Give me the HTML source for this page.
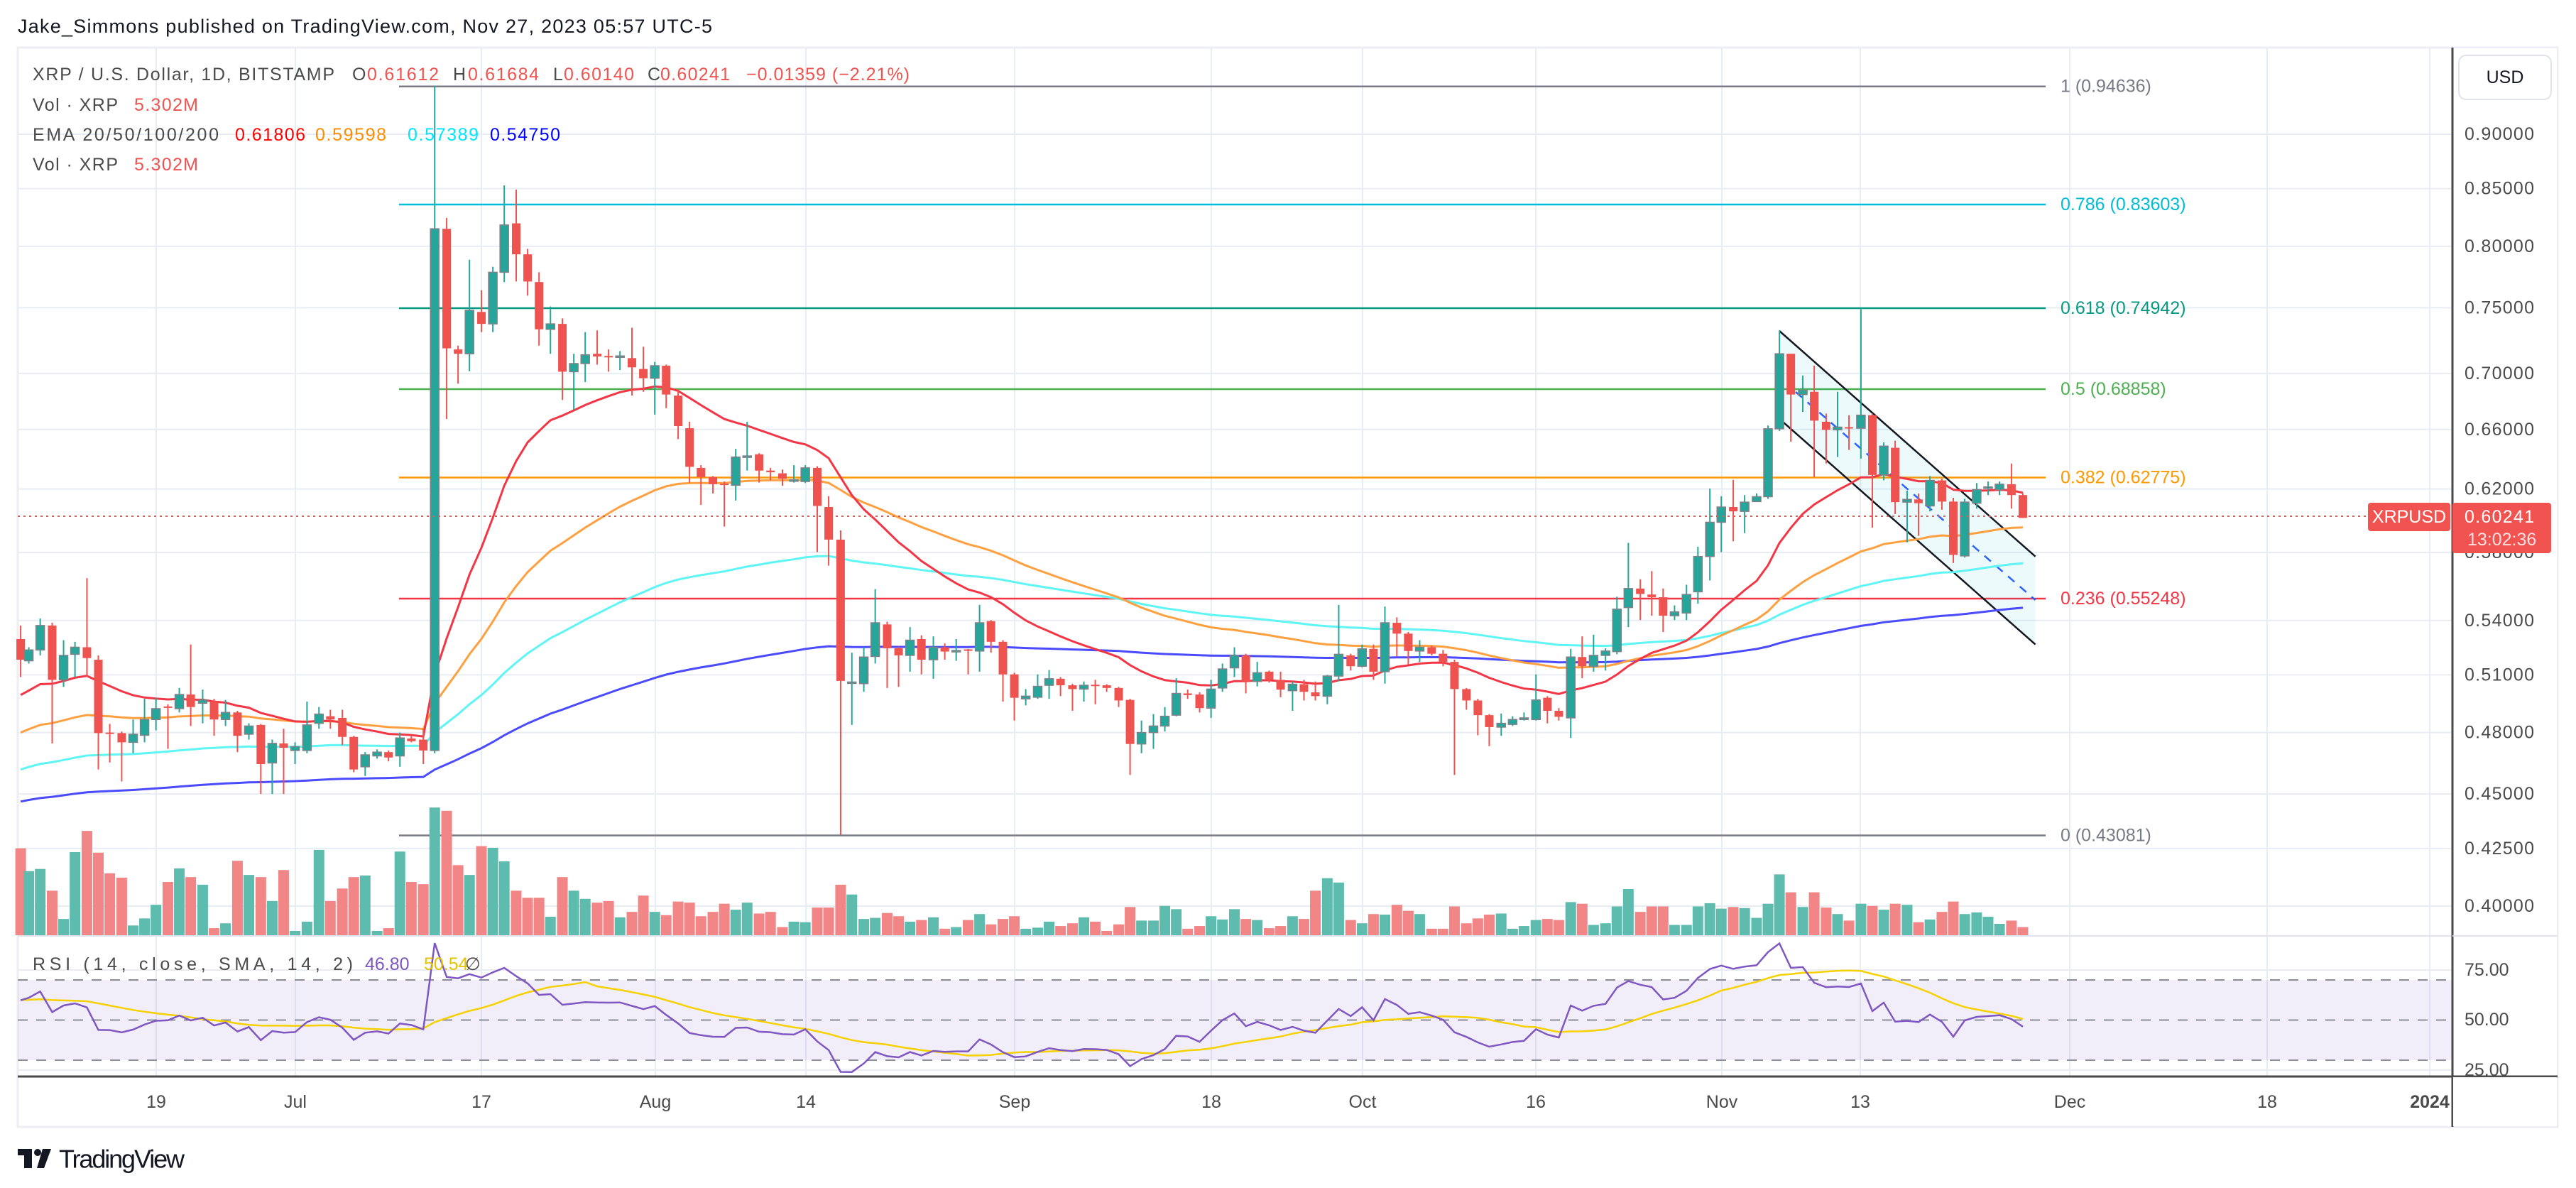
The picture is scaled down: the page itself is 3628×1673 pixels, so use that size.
<!DOCTYPE html>
<html><head><meta charset="utf-8">
<style>
html,body{margin:0;padding:0;background:#fff;}
svg{display:block;font-family:"Liberation Sans",sans-serif;}
</style></head>
<body>
<svg id="c" width="3628" height="1673" viewBox="0 0 3628 1673" xmlns="http://www.w3.org/2000/svg"></svg>
<script>
const Z7=[[38,980,1018,955,1050,1365],[53,1020,1000,995,1025,1407],[74,1000,955,942,1010,1403],[96,955,1055,950,1172,1443],[117,1055,1010,982,1068,1495],[138,1008,995,985,1050,1372],[160,995,1015,868,1050,1333],[181,1018,1153,1010,1220,1373],[202,1152,1154,1136,1207,1411],[224,1153,1170,1150,1242,1419],[245,1170,1155,1128,1190,1507],[266,1157,1128,1090,1170,1494],[287,1128,1108,1088,1148,1469],[309,1104,1106,1100,1182,1427],[330,1108,1082,1070,1115,1402],[351,1082,1105,990,1140,1418],[373,1098,1092,1073,1135,1432],[394,1095,1128,1090,1158,1512],[415,1128,1115,1092,1140,1503],[437,1115,1158,1112,1188,1388],[458,1155,1140,1135,1165,1414],[480,1138,1210,1136,1265,1418],[501,1208,1172,1165,1265,1462],[522,1172,1180,1145,1265,1405],[543,1185,1178,1170,1210,1517],[565,1185,1138,1095,1190,1500],[587,1135,1118,1105,1145,1368],[608,1122,1128,1110,1145,1462],[630,1125,1160,1110,1175,1439],[651,1160,1220,1158,1225,1418],[672,1215,1193,1188,1232,1415],[694,1195,1188,1183,1200,1517],[715,1188,1198,1185,1205,1512],[736,1195,1162,1152,1215,1371],[757,1163,1168,1158,1170,1427],[779,1165,1185,1145,1210,1431],[800,1185,225,-37,1190,1290],[822,225,445,205,575,1296],[843,447,455,440,510,1396],[864,455,375,282,487,1414],[886,378,400,338,415,1361],[907,400,305,295,415,1364],[928,305,218,145,323,1389],[950,215,272,153,322,1443],[971,272,322,262,348,1456],[992,323,410,305,440,1456],[1013,410,400,368,455,1491],[1035,400,488,390,540,1418],[1056,488,473,455,558,1443],[1077,473,457,415,507,1458],[1099,455,460,412,475,1465],[1120,459,461,447,488,1462],[1141,461,459,450,485,1492],[1163,463,480,407,532,1482],[1184,483,500,442,525,1452],[1205,500,477,470,567,1482],[1226,477,530,475,555,1488],[1248,532,588,520,612,1463],[1269,592,663,580,692,1465],[1290,665,682,660,733,1490],[1312,682,695,680,712,1482],[1333,694,696,690,773,1467],[1354,697,645,630,725,1478],[1375,645,643,580,670,1465],[1397,640,670,638,692,1485],[1418,670,673,665,688,1482],[1440,675,685,668,698,1510],[1461,689,687,660,692,1500],[1482,690,665,660,693,1501],[1504,665,735,662,820,1474],[1525,737,797,717,845,1474],[1547,797,1057,780,1340,1432]];
const Z8=[[65,1061,1059,1005,1138,1450],[87,1062,1013,995,1077,1495],[108,1012,950,888,1025,1493],[130,953,997,948,1070,1484],[151,997,1010,994,1068,1490],[172,1010,982,958,1040,1500],[193,980,1018,973,1045,1497],[215,1018,995,975,1053,1492],[236,995,1003,988,1018,1513],[257,1003,1001,980,1020,1510],[279,999,1001,998,1045,1497],[300,1002,950,917,1040,1486],[321,947,985,945,1005,1505],[343,985,1045,982,1095,1495],[364,1045,1088,1042,1130,1490],[385,1090,1085,1072,1102,1513],[407,1087,1067,1045,1090,1511],[428,1065,1053,1037,1090,1500],[449,1053,1065,1050,1085,1508],[471,1065,1072,1062,1112,1503],[492,1072,1065,1058,1095,1492],[513,1064,1066,1055,1100,1500],[534,1065,1070,1063,1077,1517],[556,1070,1093,1068,1105,1505],[577,1092,1173,1090,1230,1473],[598,1173,1152,1130,1190,1498],[620,1152,1140,1118,1182,1498],[641,1140,1122,1105,1150,1471],[662,1120,1080,1052,1122,1477],[683,1080,1083,1073,1090,1513],[705,1082,1107,1078,1115,1508],[726,1107,1072,1055,1125,1490],[747,1070,1035,1025,1077,1496],[769,1033,1010,995,1050,1477],[790,1010,1058,1007,1080,1495],[811,1058,1042,1022,1067,1497],[833,1040,1055,1038,1060,1512],[854,1055,1073,1040,1087,1508],[876,1075,1063,1058,1112,1490],[897,1063,1077,1055,1093,1495],[918,1078,1085,1058,1093,1443],[940,1085,1048,1046,1100,1420],[961,1048,1008,917,1058,1428],[983,1010,1030,1007,1038,1497],[1004,1030,998,990,1032,1503],[1025,998,1040,990,1055,1486],[1046,1040,950,920,1062,1487],[1068,950,970,940,1012,1469],[1089,970,1002,967,1027,1480],[1110,1002,995,982,1022,1486],[1132,995,1007,992,1010,1513],[1153,1007,1022,1000,1030,1513],[1174,1022,1072,1018,1230,1472],[1196,1072,1093,1070,1110,1503],[1217,1093,1120,1090,1157,1494],[1238,1120,1142,1118,1177,1487],[1260,1142,1135,1117,1158,1485],[1281,1137,1128,1122,1140,1513],[1302,1128,1125,1115,1130,1508],[1324,1128,1092,1045,1130,1497],[1345,1088,1112,1085,1135,1495],[1366,1112,1123,1107,1130,1497],[1388,1125,1013,998,1162,1464],[1409,1013,1030,975,1052,1467],[1430,1030,1010,972,1040,1506],[1452,1010,1002,997,1038,1503],[1473,1003,925,902,1008,1472],[1494,922,887,803,958,1440],[1516,887,897,870,945,1482],[1537,898,903,855,937,1472],[1558,903,937,887,967,1472]];
const Z9=[[207,937,930,918,945,1506],[229,932,898,880,945,1506],[250,893,828,810,915,1472],[272,828,765,703,872,1466],[293,765,737,717,820,1476],[315,737,745,687,800,1473],[336,745,728,715,785,1475],[358,727,718,712,722,1493],[379,718,593,587,722,1467],[400,593,455,412,597,1413],[421,455,530,455,617,1446],[443,530,522,495,562,1473],[464,525,578,477,682,1446],[486,580,595,565,657,1474],[507,595,590,525,645,1486],[528,590,592,568,632,1498],[550,592,568,373,648,1467],[571,568,678,565,775,1471],[592,678,625,618,688,1478],[613,628,728,615,750,1467],[635,728,723,707,802,1469],[656,723,730,712,790,1501],[677,735,688,680,745,1496],[699,688,727,685,742,1482],[720,727,825,720,840,1463],[741,827,728,722,830,1486],[763,730,705,693,740,1483],[784,702,700,690,715,1491],[805,705,695,690,715,1504],[827,695,715,657,740,1498],[848,715,757,712,757,1510]];
const K=1.3067;
let C=[];
function add(arr,off){for(const a of arr){C.push({x:off+a[0]/K,o:150+a[1]/K,c:150+a[2]/K,h:150+a[3]/K,l:150+a[4]/K,v:150+a[5]/K});}}
add(Z7,0);add(Z8,1150);add(Z9,2200);
const P=y=>0.9*Math.exp(-(y-189)/1340.5);
const Y=p=>189+1340.5*Math.log(0.9/p);
let s='';
const L=(x1,y1,x2,y2,st,w,extra)=>`<line x1="${x1}" y1="${y1}" x2="${x2}" y2="${y2}" stroke="${st}" stroke-width="${w}" ${extra||''}/>`;
const T=(x,y,t,fill,fs,extra)=>`<text x="${x}" y="${y}" fill="${fill}" font-size="${fs}" dominant-baseline="central" ${extra||''}>${t}</text>`;
s+=`<rect x="0" y="0" width="3628" height="1673" fill="#fff"/>`;
s+=`<rect x="25" y="67" width="3577" height="1520" fill="#fff" stroke="#eceef4" stroke-width="3"/>`;
const prices=[0.9,0.85,0.8,0.75,0.7,0.66,0.62,0.58,0.54,0.51,0.48,0.45,0.425,0.40];
for(const p of prices){s+=L(25,Y(p),3454,Y(p),'#e8edf3',2);}
s+=L(25,1366,3454,1366,'#e8edf3',2);s+=L(25,1507,3454,1507,'#e8edf3',2);
const tl=[[220,'19'],[416,'Jul'],[678,'17'],[923,'Aug'],[1135,'14'],[1429,'Sep'],[1706,'18'],[1919,'Oct'],[2163,'16'],[2425,'Nov'],[2620,'13'],[2915,'Dec'],[3193,'18'],[3422,'2024']];
for(const t of tl){s+=L(t[0],67,t[0],1516,'#e8edf3',2);}
s+=`<rect x="25" y="1380" width="3429" height="113" fill="#7e57c2" fill-opacity="0.1"/>`;
for(const y of [1380,1436.5,1493]) s+=L(25,y,3454,y,'#8a8d98',2,'stroke-dasharray="14 12"');
s+=L(25,1318,3602,1318,'#e0e3eb',2);
const fib=[[121.7,'#787b86','1 (0.94636)'],[288,'#00bcd4','0.786 (0.83603)'],[434,'#089981','0.618 (0.74942)'],[548,'#4caf50','0.5 (0.68858)'],[672.5,'#ff9800','0.382 (0.62775)'],[843,'#f23645','0.236 (0.55248)'],[1176.5,'#787b86','0 (0.43081)']];
for(const f of fib){s+=L(562,f[0],2881,f[0],f[1],2.5);s+=T(2902,f[0],f[2],f[1],25);}
s+=`<polygon points="2506,466 2866.6,783.7 2866.6,907.6 2512,595" fill="#00bcd4" fill-opacity="0.07"/>`;
s+=L(2506,466,2866.6,783.7,'#131722',2.5)+L(2512,595,2866.6,907.6,'#131722',2.5);
s+=L(2529,552,2866.6,845,'#2962ff',2.5,'stroke-dasharray="12 10"');
for(const k of C){const g=k.c<=k.o;s+=`<rect x="${k.x-7.5}" y="${k.v}" width="15" height="${1317-k.v}" fill="${g?'#5dbcae':'#f28585'}"/>`;}
function ema(n,y0){let e=P(y0),a=2/(n+1),pts=[];for(const k of C){e=e+a*(P(k.c)-e);pts.push(k.x.toFixed(1)+','+Y(e).toFixed(1));}return pts.join(' ');}
s+=`<polyline points="${ema(200,1131)}" fill="none" stroke="#4a4aff" stroke-width="3"/>`;
s+=`<polyline points="${ema(100,1087)}" fill="none" stroke="#5ff5f5" stroke-width="3"/>`;
s+=`<polyline points="${ema(50,1036)}" fill="none" stroke="#ffa040" stroke-width="3"/>`;
s+=`<polyline points="${ema(20,984)}" fill="none" stroke="#f23645" stroke-width="3"/>`;
for(const k of C){const g=k.c<k.o;const col=g?'#26a69a':'#ef5350';
 const top=Math.min(k.o,k.c),bot=Math.max(k.o,k.c);
 s+=L(k.x,k.h,k.x,k.l,col,2);
 s+=`<rect x="${k.x-6}" y="${top}" width="12" height="${Math.max(bot-top,2)}" fill="${col}" ${g?'stroke="#7d8288" stroke-width="1.5"':''}/>`;}
s+=L(25,727,3335,727,'#ef5350',2,'stroke-dasharray="3 5"');
let ag=0.008,al=0.0045,prev=P(C[0].o),rs=[],sm=[],hist=[];for(let i=0;i<13;i++)hist.push(60);
for(const k of C){const p=P(k.c),d=p-prev;prev=p;ag=(ag*13+Math.max(d,0))/14;al=(al*13+Math.max(-d,0))/14;const r=100-100/(1+ag/al);hist.push(r);const m=hist.slice(-14).reduce((a,b)=>a+b,0)/14;
 rs.push(k.x.toFixed(1)+','+(1436.5-(r-50)*2.83).toFixed(1));sm.push(k.x.toFixed(1)+','+(1436.5-(m-50)*2.83).toFixed(1));}
s+=`<polyline points="${sm.join(' ')}" fill="none" stroke="#f5d100" stroke-width="2.5"/>`;
s+=`<polyline points="${rs.join(' ')}" fill="none" stroke="#7e57c2" stroke-width="2.5"/>`;
s+=`<rect x="3455" y="68" width="146" height="1518" fill="#fff"/>`;
s+=L(3454,67,3454,1587,'#4a4a4a',3);
s+=L(25,1516,3602,1516,'#4a4a4a',3);
s+=L(3454,1318,3602,1318,'#e0e3eb',2);
s+=`<rect x="3463" y="78" width="130" height="62" rx="10" fill="#fff" stroke="#e0e3eb" stroke-width="2"/>`;
s+=T(3528,109,'USD','#131722',25,'text-anchor="middle"');
for(const p of prices){s+=T(3471,Y(p),p.toFixed(5),'#4a4a4a',25,'textLength="98"');}
s+=T(3471,1366,'75.00','#4a4a4a',25);s+=T(3471,1436,'50.00','#4a4a4a',25);
s+=T(3471,1507,'25.00','#4a4a4a',25);
s+=`<rect x="3455" y="1517" width="146" height="69" fill="#fff"/>`;
s+=`<rect x="3454" y="708" width="139" height="71" rx="4" fill="#f05350"/>`;
s+=T(3471,728,'0.60241','#fff',25,'textLength="98"');s+=T(3475,760,'13:02:36','#fde0e0',25);
s+=`<rect x="3335" y="708" width="116" height="40" rx="4" fill="#f05350"/>`;
s+=T(3393,728,'XRPUSD','#fff',25,'text-anchor="middle"');
for(const t of tl){s+=T(t[0],1552,t[1],'#4a4a4a',25,'text-anchor="middle"'+(t[1]=='2024'?' font-weight="bold"':''));}
s+=T(25,37,'Jake_Simmons published on TradingView.com, Nov 27, 2023 05:57 UTC-5','#131722',27,'textLength="978"');
const R='#ef5350';
s+=T(46,105,'XRP / U.S. Dollar, 1D, BITSTAMP','#4a4a4a',25,'textLength="425"');
s+=T(496,105,'O','#4a4a4a',25)+T(517,105,'0.61612',R,25,'textLength="101"');
s+=T(638,105,'H','#4a4a4a',25)+T(659,105,'0.61684',R,25,'textLength="100"');
s+=T(779,105,'L','#4a4a4a',25)+T(794,105,'0.60140',R,25,'textLength="99"');
s+=T(912,105,'C','#4a4a4a',25)+T(930,105,'0.60241',R,25,'textLength="98"');
s+=T(1051,105,'−0.01359 (−2.21%)',R,25,'textLength="230"');
s+=T(46,148,'Vol · XRP','#4a4a4a',25,'textLength="120"')+T(189,148,'5.302M',R,25,'textLength="90"');
s+=T(46,190,'EMA 20/50/100/200','#4a4a4a',25,'textLength="262"');
s+=T(331,190,'0.61806','#ff0000',25,'textLength="99"')+T(444,190,'0.59598','#ff8c00',25,'textLength="100"');
s+=T(574,190,'0.57389','#00e5ff',25,'textLength="100"')+T(690,190,'0.54750','#0000ff',25,'textLength="99"');
s+=T(46,232,'Vol · XRP','#4a4a4a',25,'textLength="120"')+T(189,232,'5.302M',R,25,'textLength="90"');
s+=T(46,1358,'RSI (14, close, SMA, 14, 2)','#4a4a4a',25,'textLength="451"');
s+=T(514,1358,'46.80','#7e57c2',25)+T(597,1358,'50.54','#e6c200',25);
s+=T(655,1358,'∅','#4a4a4a',25);
s+=`<rect x="25" y="1618" width="20" height="9" fill="#131722"/><rect x="34" y="1618" width="11" height="27" fill="#131722"/><circle cx="53" cy="1623" r="5" fill="#131722"/><polygon points="60,1618 72,1618 62,1645 52,1645" fill="#131722"/>`;
s+=T(83,1632,'TradingView','#131722',36,'textLength="177"');
document.getElementById('c').innerHTML=s;
</script>
</body></html>
